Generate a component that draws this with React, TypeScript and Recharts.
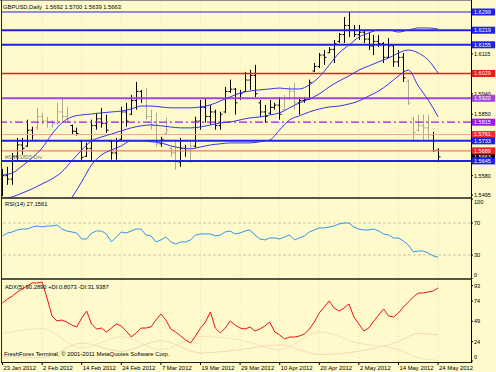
import React from 'react'
import { ComposedChart, Bar, Line, XAxis, YAxis, CartesianGrid, ReferenceLine } from 'recharts'

// GBPUSD daily bars, 23 Jan 2012 .. 24 May 2012
const opens = [
  1.5505, 1.5580, 1.5565, 1.5665, 1.5715, 1.5710, 1.5780, 1.5790, 1.5840, 1.5820,
  1.5815, 1.5810, 1.5860, 1.5840, 1.5800, 1.5775, 1.5730, 1.5665, 1.5700, 1.5800,
  1.5830, 1.5810, 1.5730, 1.5680, 1.5740, 1.5860, 1.5850, 1.5910, 1.5950, 1.5920,
  1.5840, 1.5800, 1.5720, 1.5765, 1.5700, 1.5680, 1.5640, 1.5700, 1.5690, 1.5710,
  1.5820, 1.5880, 1.5840, 1.5860, 1.5800, 1.5860, 1.5950, 1.5960, 1.5920, 1.5950,
  1.6000, 1.6020, 1.5900, 1.5860, 1.5855, 1.5880, 1.5890, 1.5870, 1.5920, 1.5950,
  1.5900, 1.5910, 1.5915, 1.6040, 1.6060, 1.6110, 1.6120, 1.6135, 1.6170, 1.6200,
  1.6240, 1.6220, 1.6200, 1.6210, 1.6180, 1.6150, 1.6170, 1.6160, 1.6100, 1.6150,
  1.6080, 1.6100, 1.5995, 1.5830, 1.5780, 1.5800, 1.5790, 1.5760, 1.5692,
]
const highs = [
  1.5610, 1.5619, 1.5680, 1.5746, 1.5746, 1.5826, 1.5795, 1.5878, 1.5856, 1.5839,
  1.5826, 1.5900, 1.5926, 1.5883, 1.5804, 1.5791, 1.5738, 1.5725, 1.5826, 1.5856,
  1.5878, 1.5848, 1.5738, 1.5746, 1.5883, 1.5900, 1.5935, 1.5992, 1.5957, 1.5965,
  1.5870, 1.5856, 1.5751, 1.5834, 1.5707, 1.5738, 1.5746, 1.5716, 1.5729, 1.5839,
  1.5913, 1.5922, 1.5891, 1.5870, 1.5861, 1.5970, 1.6002, 1.5965, 1.5957, 1.6036,
  1.6045, 1.6067, 1.5913, 1.5891, 1.5913, 1.5900, 1.5926, 1.5935, 1.5970, 1.5988,
  1.5926, 1.5926, 1.6002, 1.6075, 1.6119, 1.6132, 1.6145, 1.6176, 1.6207, 1.6277,
  1.6299, 1.6242, 1.6242, 1.6220, 1.6207, 1.6198, 1.6198, 1.6167, 1.6185, 1.6154,
  1.6132, 1.6119, 1.6002, 1.5839, 1.5848, 1.5848, 1.5848, 1.5773, 1.5700,
]
const lows = [
  1.5490, 1.5540, 1.5540, 1.5650, 1.5672, 1.5707, 1.5738, 1.5782, 1.5804, 1.5791,
  1.5791, 1.5804, 1.5817, 1.5813, 1.5760, 1.5756, 1.5640, 1.5663, 1.5650, 1.5782,
  1.5791, 1.5768, 1.5650, 1.5650, 1.5738, 1.5795, 1.5848, 1.5870, 1.5900, 1.5826,
  1.5782, 1.5707, 1.5707, 1.5760, 1.5663, 1.5606, 1.5619, 1.5663, 1.5636, 1.5702,
  1.5782, 1.5813, 1.5804, 1.5782, 1.5782, 1.5856, 1.5944, 1.5848, 1.5913, 1.5948,
  1.5957, 1.5926, 1.5839, 1.5813, 1.5848, 1.5870, 1.5826, 1.5870, 1.5913, 1.5870,
  1.5848, 1.5900, 1.5913, 1.6036, 1.6053, 1.6067, 1.6119, 1.6075, 1.6163, 1.6163,
  1.6189, 1.6189, 1.6176, 1.6163, 1.6132, 1.6110, 1.6145, 1.6075, 1.6097, 1.6058,
  1.6058, 1.5992, 1.5891, 1.5738, 1.5773, 1.5738, 1.5742, 1.5685, 1.5639,
]
const closes = [
  1.5580, 1.5565, 1.5665, 1.5715, 1.5700, 1.5780, 1.5760, 1.5840, 1.5820, 1.5815,
  1.5810, 1.5860, 1.5840, 1.5820, 1.5775, 1.5765, 1.5660, 1.5700, 1.5800, 1.5830,
  1.5810, 1.5780, 1.5680, 1.5730, 1.5860, 1.5820, 1.5910, 1.5950, 1.5920, 1.5840,
  1.5800, 1.5720, 1.5740, 1.5780, 1.5680, 1.5640, 1.5700, 1.5690, 1.5710, 1.5820,
  1.5880, 1.5840, 1.5860, 1.5800, 1.5850, 1.5950, 1.5960, 1.5900, 1.5940, 1.6000,
  1.6020, 1.5940, 1.5860, 1.5840, 1.5880, 1.5890, 1.5850, 1.5920, 1.5950, 1.5900,
  1.5910, 1.5915, 1.5990, 1.6060, 1.6110, 1.6100, 1.6135, 1.6160, 1.6200, 1.6240,
  1.6220, 1.6200, 1.6210, 1.6180, 1.6150, 1.6170, 1.6160, 1.6100, 1.6150, 1.6080,
  1.6100, 1.6010, 1.5900, 1.5770, 1.5800, 1.5790, 1.5760, 1.5690, 1.5663,
]
// bars drawn in the pale colour
const greyBars = [7, 8, 9, 10, 11, 12, 13, 29, 30, 31, 33, 34, 35, 38, 57, 58, 59, 82, 83, 84, 85, 86]

// envelope bands, read every second bar
const bandIdx = [
  0, 2, 4, 6, 8, 10, 12, 14, 16, 18, 20, 22, 24, 26, 28, 30, 32, 34, 36, 38, 40, 42,
  44, 46, 48, 50, 52, 54, 56, 58, 60, 62, 64, 66, 68, 70, 72, 74, 76, 78, 80, 82, 84, 86, 88,
]
const bbUpper = [
  1.5583, 1.5592, 1.5623, 1.5658, 1.5702, 1.5763, 1.5812, 1.5838, 1.5847, 1.5851,
  1.5856, 1.5860, 1.5864, 1.5873, 1.5886, 1.5886, 1.5882, 1.5878, 1.5878, 1.5878,
  1.5882, 1.5891, 1.5908, 1.5926, 1.5943, 1.5952, 1.5957, 1.5961, 1.5965, 1.5961,
  1.5961, 1.5979, 1.6014, 1.6066, 1.6119, 1.6154, 1.6189, 1.6207, 1.6220, 1.6220,
  1.6211, 1.6220, 1.6229, 1.6229, 1.6224,
]
const bbMiddle = [
  1.5478, 1.5487, 1.5504, 1.5522, 1.5544, 1.5566, 1.5597, 1.5645, 1.5693, 1.5733,
  1.5750, 1.5763, 1.5777, 1.5790, 1.5799, 1.5803, 1.5799, 1.5794, 1.5790, 1.5790,
  1.5794, 1.5803, 1.5812, 1.5816, 1.5825, 1.5834, 1.5838, 1.5847, 1.5856, 1.5878,
  1.5900, 1.5917, 1.5939, 1.5970, 1.5996, 1.6018, 1.6044, 1.6062, 1.6080, 1.6097,
  1.6119, 1.6132, 1.6119, 1.6088, 1.6031,
]
const bbLower = [
  null, null, null, null, null, null, null, 1.5483, 1.5553, 1.5627,
  1.5671, 1.5693, 1.5711, 1.5733, 1.5733, 1.5729, 1.5724, 1.5711, 1.5702, 1.5698,
  1.5706, 1.5715, 1.5720, 1.5724, 1.5724, 1.5724, 1.5729, 1.5737, 1.5781, 1.5825,
  1.5843, 1.5860, 1.5873, 1.5882, 1.5886, 1.5895, 1.5908, 1.5930, 1.5952, 1.5983,
  1.6018, 1.6044, 1.5974, 1.5913, 1.5839,
]

const rsi = [
  53.8, 57.5, 58.8, 61.3, 62.5, 62.5, 65.0, 66.3, 65.0, 66.3,
  66.3, 67.5, 62.5, 60.0, 58.8, 57.5, 50.0, 50.0, 57.5, 60.0,
  60.0, 56.3, 46.3, 52.5, 58.8, 57.5, 60.0, 62.5, 62.5, 55.0,
  53.8, 46.3, 48.8, 52.5, 46.3, 43.8, 46.3, 46.3, 48.8, 55.0,
  56.3, 56.3, 56.3, 53.8, 55.0, 58.8, 60.0, 56.3, 57.5, 60.0,
  61.3, 55.0, 50.0, 48.8, 51.3, 51.3, 50.0, 52.5, 55.0, 48.8,
  51.3, 53.8, 58.8, 61.3, 63.8, 63.8, 65.0, 66.3, 68.8, 70.0,
  70.0, 65.0, 62.5, 61.3, 61.3, 62.5, 60.0, 56.3, 55.0, 51.3,
  51.3, 47.5, 42.5, 33.8, 35.0, 35.0, 32.5, 28.8, 27.16,
]
const adx = [
  71.6, 76.5, 80.2, 85.2, 88.9, 92.6, 96.3, 96.3, 97.5, 77.8,
  55.6, 49.4, 50.6, 48.1, 44.4, 42.0, 53.1, 61.7, 45.7, 39.5,
  40.7, 35.8, 40.7, 45.7, 43.2, 37.0, 29.6, 34.6, 40.7, 40.7,
  42.0, 50.6, 58.0, 50.6, 39.5, 35.8, 30.9, 25.9, 22.2, 30.9,
  40.7, 48.1, 60.5, 40.7, 34.6, 40.7, 49.4, 44.4, 40.7, 39.5,
  42.0, 37.0, 39.5, 43.2, 48.1, 35.8, 32.1, 27.2, 29.6, 29.6,
  30.9, 33.3, 39.5, 48.1, 59.3, 66.7, 74.1, 65.4, 61.7, 65.4,
  70.4, 54.3, 45.7, 37.0, 40.7, 49.4, 56.8, 64.2, 55.6, 54.3,
  59.3, 66.7, 72.8, 79.0, 84.0, 84.0, 85.2, 86.4, 90.29,
]
// faint +DI / -DI lines, sparse readings
const diIdx = [0, 8, 16, 24, 32, 40, 48, 56, 64, 72, 80, 84, 88]
const diPlus = [34, 40, 16, 30, 14, 30, 26, 14, 36, 22, 14, 4, 0.81]
const diMinus = [6, 4, 22, 12, 25, 10, 14, 20, 8, 12, 24, 34, 31.94]

const dateIdx = [0, 8, 16, 24, 32, 40, 48, 56, 64, 72, 80, 88]
const dateLabels = [
  '23 Jan 2012', '2 Feb 2012', '14 Feb 2012', '24 Feb 2012', '7 Mar 2012', '19 Mar 2012',
  '29 Mar 2012', '10 Apr 2012', '20 Apr 2012', '2 May 2012', '14 May 2012', '24 May 2012',
]

const priceTicks = [1.6115, 1.594, 1.585, 1.558, 1.5495]
const lastPrice = 1.5663
const levelPrices = [1.6299, 1.6219, 1.6155, 1.6029, 1.592, 1.5815, 1.5761, 1.5733, 1.5689, 1.5645]
const rsiTicks = [100, 70, 30, 0]
const rsiLevels = [70, 30]
const adxTicks = [93, 74, 49, 24, 0]

// styling of the horizontal levels
const levelLine = ['#2020E8', '#2020E8', '#2020E8', '#F01818', '#A444D8', '#9A18F0', '#F5A792', '#2020E8', '#EF7A66', '#2020E8']
const levelBox = ['#2020E8', '#2020E8', '#2020E8', '#F01818', '#A444D8', '#9A18F0', '#EE3030', '#2020E8', '#EE2222', '#2020E8']
const levelWidth = [1.2, 2, 2, 1.4, 2, 1.2, 1.2, 2, 1.2, 2]

const FONT = 'Liberation Sans, Arial, sans-serif'
const BG = '#FEFACB'
const X_DOMAIN: [number, number] = [-0.1, 94.65]
const GRID = '#E9E1B2'

const rows = opens.map((o, i) => ({
  i,
  hl: [lows[i], highs[i]],
  open: o,
  close: closes[i],
  grey: greyBars.includes(i),
  rsi: rsi[i],
  adx: adx[i],
  bbU: null as number | null,
  bbM: null as number | null,
  bbL: null as number | null,
  diP: null as number | null,
  diM: null as number | null,
}))
bandIdx.forEach((b, k) => {
  rows[b].bbU = bbUpper[k]
  rows[b].bbM = bbMiddle[k]
  rows[b].bbL = bbLower[k]
})
diIdx.forEach((b, k) => {
  rows[b].diP = diPlus[k]
  rows[b].diM = diMinus[k]
})

function OhlcShape(props: any) {
  const { x, y, width, height, payload } = props
  if (x == null || y == null) return null
  const top = Math.min(y, y + height)
  const h = Math.abs(height)
  const [lo, hi] = payload.hl
  const cx = Math.round(x + width / 2) + 0.5
  const py = (v: number) => top + ((hi - v) / (hi - lo)) * h
  const c = payload.grey ? '#ABA992' : '#000000'
  return (
    <g stroke={c} strokeWidth={1}>
      <line x1={cx} x2={cx} y1={top} y2={top + h} />
      <line x1={cx - 2} x2={cx} y1={py(payload.open)} y2={py(payload.open)} />
      <line x1={cx} x2={cx + 2} y1={py(payload.close)} y2={py(payload.close)} />
    </g>
  )
}

function PriceTick(props: any) {
  const { x, y, payload } = props
  const v = payload.value
  const k = levelPrices.indexOf(v)
  const box = k >= 0 ? levelBox[k] : v === lastPrice ? '#000000' : null
  if (box) {
    return (
      <g>
        <rect x={x + 1} y={y - 3.5} width={23} height={7} fill={box} />
        <text x={x + 3} y={y + 2} fill="#FFFFFF" fontSize={5.5} fontFamily={FONT}>{v.toFixed(4)}</text>
      </g>
    )
  }
  return (
    <g>
      <line x1={x} x2={x + 2} y1={y} y2={y} stroke="#000" />
      <text x={x + 3} y={y + 2} fill="#000" fontSize={5.5} fontFamily={FONT}>{v.toFixed(4)}</text>
    </g>
  )
}

function makeSubTick(top: number, bottom: number) {
  return (props: any) => {
    const { x, y, payload } = props
    const v = payload.value
    const dy = v === top ? 3 : v === bottom ? -4 : 0
    return (
      <g>
        <line x1={x} x2={x + 2} y1={y} y2={y} stroke="#000" />
        <text x={x + 3} y={y + 2 + dy} fill="#000" fontSize={5.6} fontFamily={FONT}>{v}</text>
      </g>
    )
  }
}
const RsiTick = makeSubTick(100, 0)
const AdxTick = makeSubTick(-1, 0)

function DateTick(props: any) {
  const { x, y, payload } = props
  const label = dateLabels[dateIdx.indexOf(payload.value)]
  return (
    <g>
      <line x1={x} x2={x} y1={y} y2={y + 3} stroke="#000" />
      <text x={x + 1} y={y + 8} fill="#000" fontSize={5.9} fontFamily={FONT}>{label}</text>
    </g>
  )
}

export default function App() {
  return (
    <div style={{ position: 'absolute', left: 0, top: 0, width: 496, height: 372, background: BG, overflow: 'hidden' }}>
      {/* price pane */}
      <div style={{ position: 'absolute', left: 0, top: 0 }}>
        <ComposedChart width={496} height={198} data={rows} margin={{ top: 2, right: 0, bottom: 0, left: 2 }}>
          <CartesianGrid stroke={GRID} strokeDasharray="1 2" horizontal={false} />
          <XAxis dataKey="i" type="number" domain={X_DOMAIN} allowDataOverflow ticks={dateIdx} hide />
          <YAxis
            orientation="right"
            width={25}
            domain={[1.5482, 1.6343]}
            allowDataOverflow
            ticks={[...priceTicks, lastPrice, ...levelPrices]}
            interval={0}
            tick={PriceTick}
            tickSize={0}
            tickMargin={0}
            axisLine={false}
            tickLine={false}
          />
          {levelPrices.map((p, k) => (
            <ReferenceLine
              key={p}
              y={p}
              stroke={levelLine[k]}
              strokeWidth={levelWidth[k]}
              strokeDasharray={p === 1.5815 ? '8 3 2 3' : undefined}
            />
          ))}
          <Bar dataKey="hl" barSize={5} shape={OhlcShape} isAnimationActive={false} />
          <Line dataKey="bbU" type="monotone" stroke="#3434F2" strokeWidth={1} dot={false} activeDot={false} connectNulls isAnimationActive={false} />
          <Line dataKey="bbM" type="monotone" stroke="#3434F2" strokeWidth={1} dot={false} activeDot={false} connectNulls isAnimationActive={false} />
          <Line dataKey="bbL" type="monotone" stroke="#3434F2" strokeWidth={1} dot={false} activeDot={false} connectNulls isAnimationActive={false} />
        </ComposedChart>
      </div>

      {/* RSI pane */}
      <div style={{ position: 'absolute', left: 0, top: 198 }}>
        <ComposedChart width={496} height={81} data={rows} margin={{ top: 1, right: 0, bottom: 0, left: 2 }}>
          <CartesianGrid stroke={GRID} strokeDasharray="1 2" horizontal={false} />
          <XAxis dataKey="i" type="number" domain={X_DOMAIN} allowDataOverflow ticks={dateIdx} hide />
          <YAxis
            orientation="right"
            width={25}
            domain={[0, 100]}
            allowDataOverflow
            ticks={rsiTicks}
            interval={0}
            tick={RsiTick}
            tickSize={0}
            tickMargin={0}
            axisLine={false}
            tickLine={false}
          />
          {rsiLevels.map((l) => (
            <ReferenceLine key={l} y={l} stroke="#C9C6B4" strokeDasharray="3 2" />
          ))}
          <Line dataKey="rsi" type="linear" stroke="#2E96F0" strokeWidth={1} dot={false} activeDot={false} isAnimationActive={false} />
        </ComposedChart>
      </div>

      {/* ADX pane */}
      <div style={{ position: 'absolute', left: 0, top: 279 }}>
        <ComposedChart width={496} height={93} data={rows} margin={{ top: 0, right: 0, bottom: 0, left: 2 }}>
          <CartesianGrid stroke={GRID} strokeDasharray="1 2" horizontal={false} />
          <XAxis
            dataKey="i"
            type="number"
            domain={X_DOMAIN}
            allowDataOverflow
            ticks={dateIdx}
            interval={0}
            height={10}
            tick={DateTick}
            tickSize={0}
            tickMargin={0}
            axisLine={false}
            tickLine={false}
          />
          <YAxis
            orientation="right"
            width={25}
            domain={[-1.23, 101.23]}
            allowDataOverflow
            ticks={adxTicks}
            interval={0}
            tick={AdxTick}
            tickSize={0}
            tickMargin={0}
            axisLine={false}
            tickLine={false}
          />
          <Line dataKey="diP" type="monotone" stroke="#F6E2BC" strokeWidth={1} dot={false} activeDot={false} connectNulls isAnimationActive={false} />
          <Line dataKey="diM" type="monotone" stroke="#F5D9B6" strokeWidth={1} dot={false} activeDot={false} connectNulls isAnimationActive={false} />
          <Line dataKey="adx" type="linear" stroke="#F01010" strokeWidth={1} dot={false} activeDot={false} isAnimationActive={false} />
        </ComposedChart>
      </div>

      {/* frame and captions */}
      <svg width={496} height={372} style={{ position: 'absolute', left: 0, top: 0 }} fontFamily={FONT}>
        <line x1={0} x2={472} y1={0.5} y2={0.5} stroke="#8E8E86" />
        <line x1={1.5} x2={1.5} y1={0} y2={362} stroke="#2A2A2A" />
        <line x1={471.5} x2={471.5} y1={0} y2={363} stroke="#000" />
        <line x1={1} x2={472} y1={198} y2={198} stroke="#1C1C1C" strokeWidth={1.6} />
        <line x1={1} x2={472} y1={279} y2={279} stroke="#1C1C1C" strokeWidth={1.6} />
        <line x1={1} x2={472} y1={362.5} y2={362.5} stroke="#1C1C1C" />
        <text x={3} y={8.5} fontSize={5.8} fill="#000" style={{ whiteSpace: 'pre' }}>GBPUSD,Daily  1.5692 1.5700 1.5639 1.5663</text>
        <text x={5} y={159} fontSize={5.6} fill="#7C7C74">#SSR1805 Div</text>
        <text x={5} y={206} fontSize={5.8} fill="#000">RSI(14) 27.1561</text>
        <text x={5} y={288.5} fontSize={5.8} fill="#000">ADX(5) 90.2890 +DI:0.8073 -DI:31.9387</text>
        <text x={4} y={356} fontSize={5.9} fill="#000">FreshForex Terminal, © 2001-2011 MetaQuotes Software Corp.</text>
      </svg>
    </div>
  )
}
